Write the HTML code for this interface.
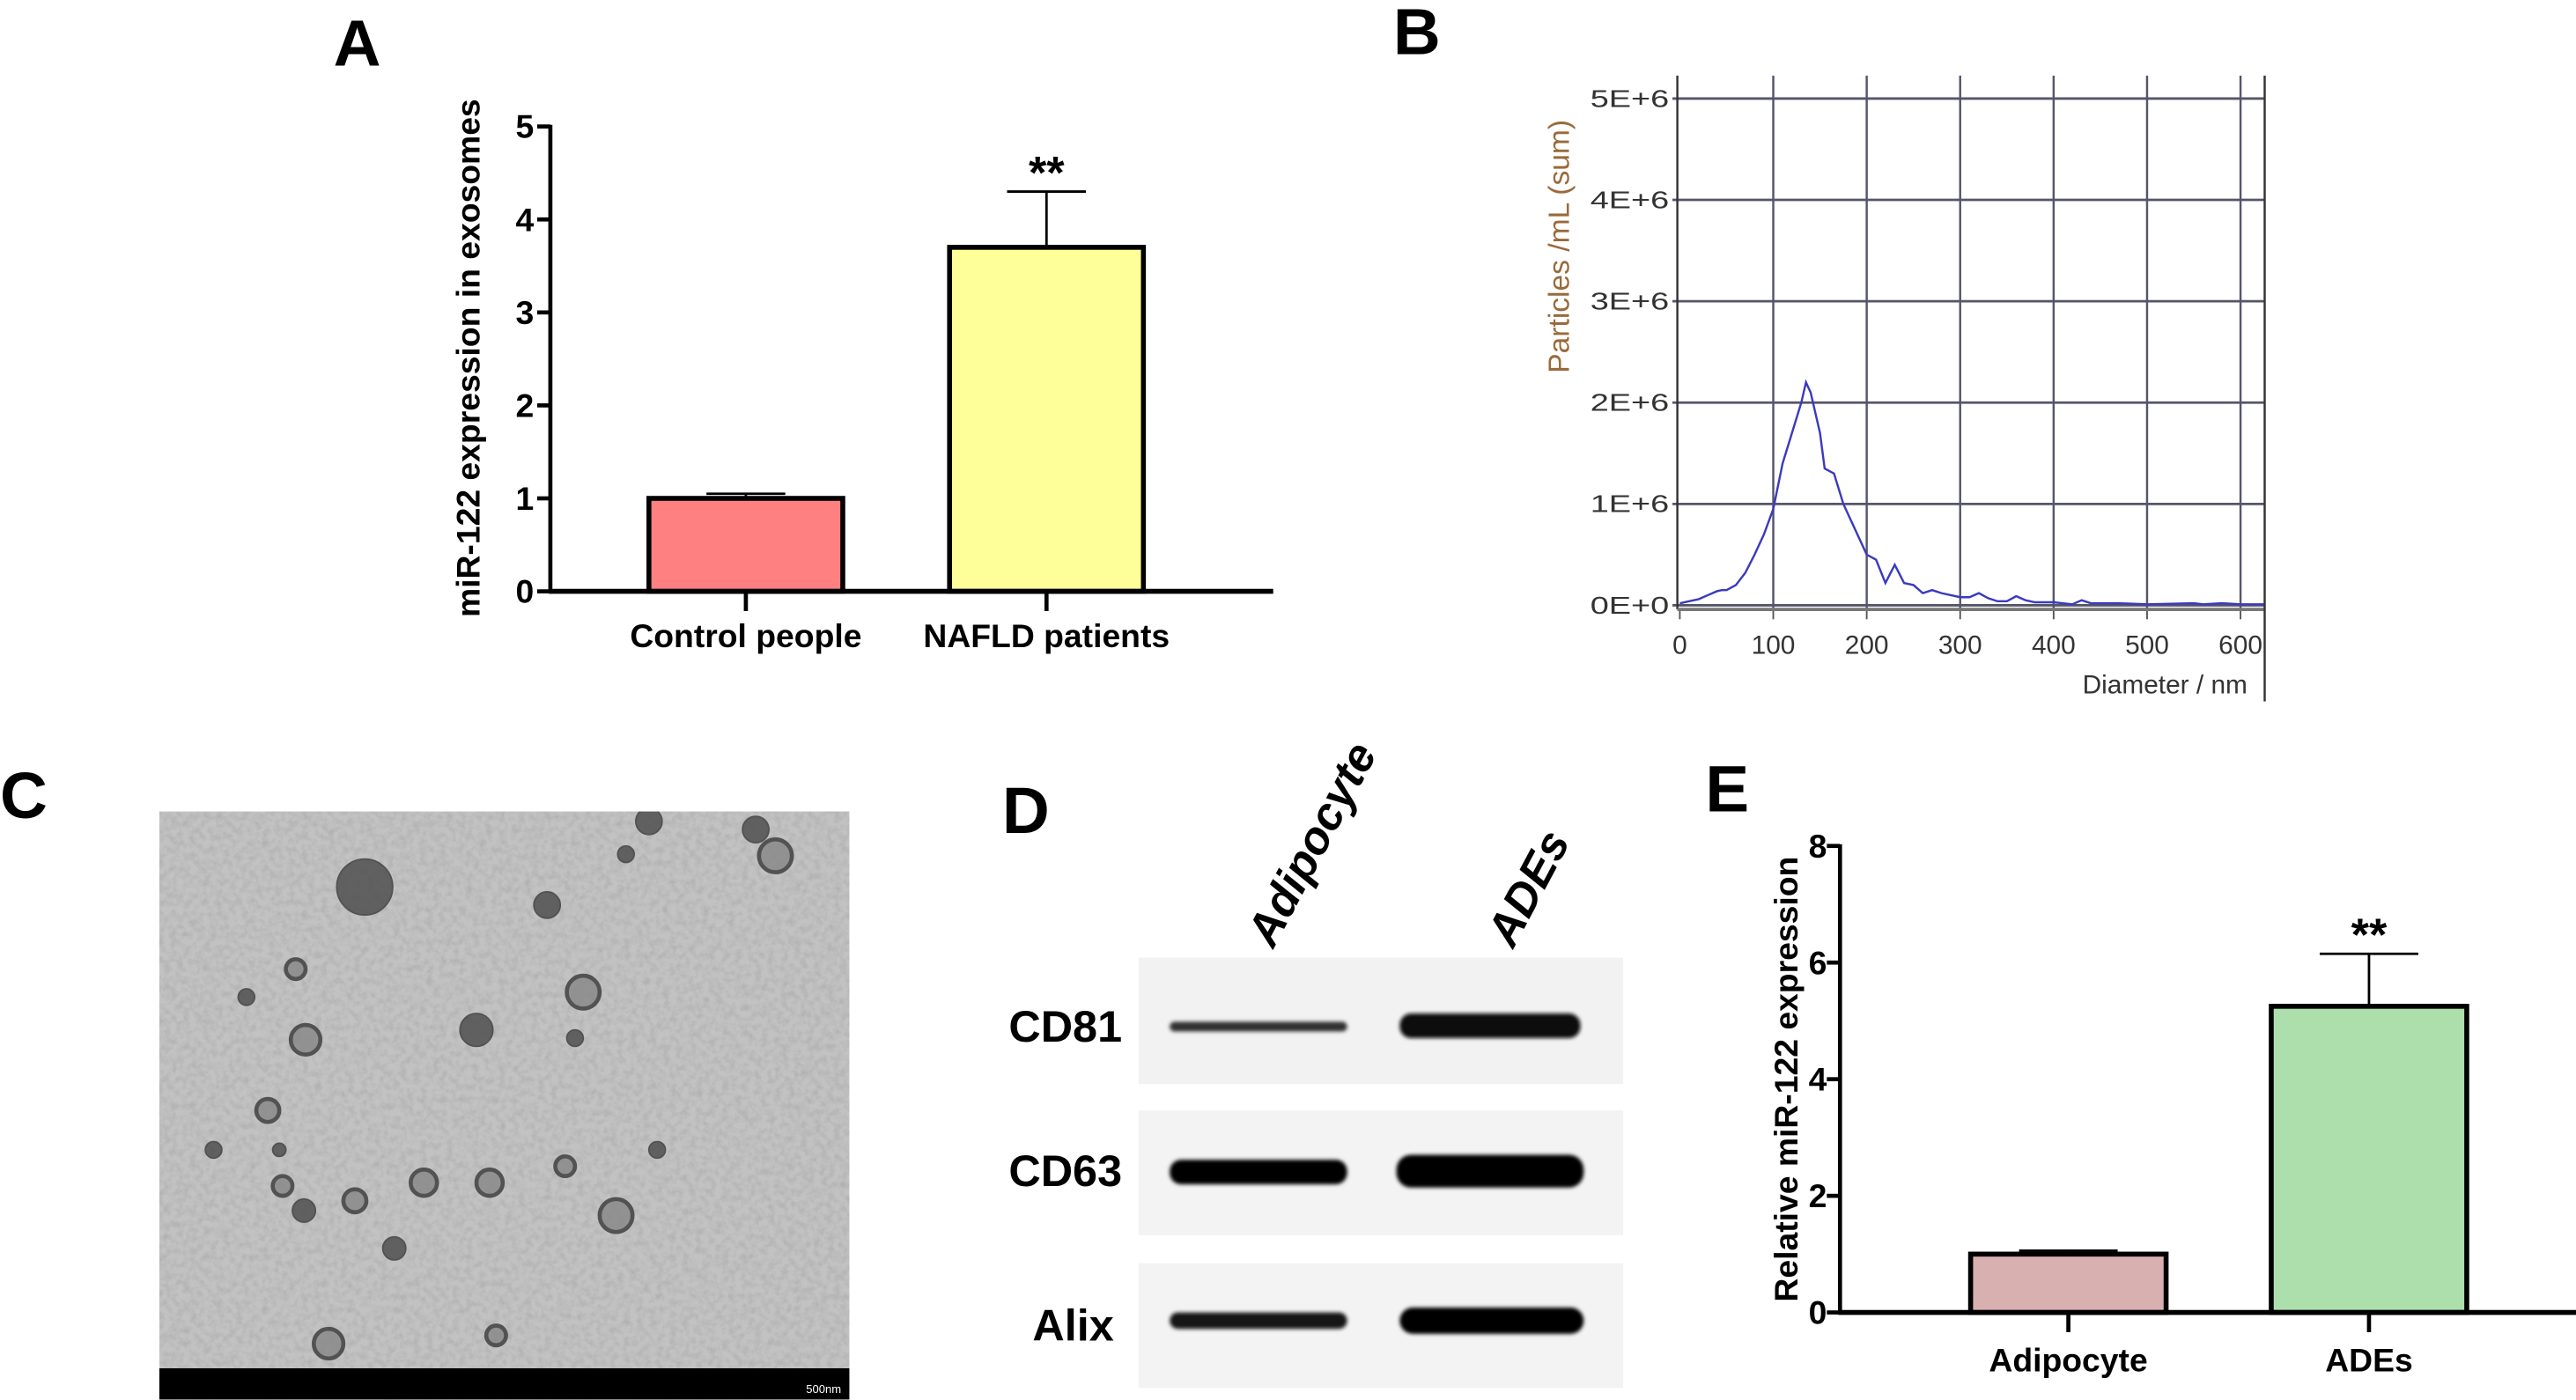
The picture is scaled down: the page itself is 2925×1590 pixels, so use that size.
<!DOCTYPE html>
<html><head><meta charset="utf-8"><style>
html,body{margin:0;padding:0;background:#fff}
svg{display:block}
text{font-family:"Liberation Sans",Arial,sans-serif}
</style></head><body>
<svg id="fig" width="2925" height="1590" viewBox="0 0 1568 852.3" preserveAspectRatio="none" xmlns="http://www.w3.org/2000/svg">
<defs>
<filter id="blur1" x="-0.2" y="-1" width="1.4" height="3"><feGaussianBlur stdDeviation="1.2"/></filter>
<filter id="noise" x="0" y="0" width="1" height="1" filterUnits="objectBoundingBox"><feTurbulence type="fractalNoise" baseFrequency="0.25" numOctaves="3" seed="3"/><feColorMatrix type="matrix" values="0 0 0 0 0.3  0 0 0 0 0.3  0 0 0 0 0.3  0 0 0 1.2 -0.45"/></filter>
<clipPath id="temclip"><rect x="97" y="494" width="420" height="358"/></clipPath>
</defs>
<g id="panelA"></g>
<g id="panelB"></g>
<g id="panelC">
  <text x="0" y="498" font-size="40" font-weight="bold">C</text>
  <rect x="97" y="494" width="420" height="358" fill="#c2c2c2"/>
  <g clip-path="url(#temclip)"><rect x="97" y="494" width="420" height="358" filter="url(#noise)" opacity="0.6"/>
  <g id="vesicles"></g></g>
  <rect x="97" y="833" width="420" height="19" fill="#000"/>
  <text x="512" y="848" font-size="7" fill="#fff" text-anchor="end">500nm</text>
</g>
<g id="panelD">
  <text x="610" y="507" font-size="40" font-weight="bold">D</text>
  <text transform="translate(775,578) rotate(-62)" font-size="28" font-weight="bold" font-style="italic">Adipocyte</text>
  <text transform="translate(921,578) rotate(-62)" font-size="28" font-weight="bold" font-style="italic">ADEs</text>
  <g>
    <rect x="693" y="583" width="295" height="77" fill="#f2f2f2"/>
    <rect x="712" y="622" width="108" height="6" rx="3" fill="#333" filter="url(#blur1)"/>
    <rect x="852" y="617" width="110" height="15" rx="7" fill="#0a0a0a" filter="url(#blur1)"/>
  </g>
  <g>
    <rect x="693" y="676" width="295" height="76" fill="#f3f3f3"/>
    <rect x="712" y="706" width="108" height="15" rx="7" fill="#050505" filter="url(#blur1)"/>
    <rect x="850" y="703" width="114" height="20" rx="9" fill="#000" filter="url(#blur1)"/>
  </g>
  <g>
    <rect x="693" y="769" width="295" height="76" fill="#f3f3f3"/>
    <rect x="712" y="799" width="108" height="10" rx="5" fill="#151515" filter="url(#blur1)"/>
    <rect x="852" y="796" width="112" height="16" rx="8" fill="#000" filter="url(#blur1)"/>
  </g>
  <text x="683" y="634" font-size="27" font-weight="bold" text-anchor="end">CD81</text>
  <text x="683" y="722" font-size="27" font-weight="bold" text-anchor="end">CD63</text>
  <text x="678" y="816" font-size="27" font-weight="bold" text-anchor="end">Alix</text>
</g>
<g id="panelE"></g>
</svg>
<script>
const NS='http://www.w3.org/2000/svg';
function mk(parent,tag,attrs,txt){const e=document.createElementNS(NS,tag);for(const k in attrs)e.setAttribute(k,attrs[k]);if(txt!==undefined)e.textContent=txt;parent.appendChild(e);return e;}

// ---------- Panel A data ----------
const aCategories=['Control people','NAFLD patients'];
const aValues=[1.0,3.7];
const aErrors=[0.05,0.6];
const aColors=['#FF8080','#FFFF99'];
const aTicks=[0,1,2,3,4,5];
const aSig=['','**'];

// ---------- Panel E data ----------
const eCategories=['Adipocyte','ADEs'];
const eValues=[1.0,5.25];
const eErrors=[0.06,0.9];
const eColors=['#D9B0B0','#ADDFAD'];
const eTicks=[0,2,4,6,8];
const eSig=['','**'];

// ---------- Panel B data ----------
const bDiam=[0,10,20,30,40,45,50,60,70,80,90,100,110,120,130,135,140,145,150,155,165,175,190,200,210,220,230,240,250,260,270,280,290,300,310,320,330,340,350,360,370,380,400,420,430,440,470,500,550,560,580,600,630];
const bConc=[0.02,0.04,0.06,0.1,0.14,0.15,0.15,0.2,0.32,0.5,0.7,0.95,1.4,1.7,2.0,2.2,2.1,1.9,1.7,1.35,1.3,1.0,0.7,0.5,0.45,0.22,0.4,0.22,0.2,0.12,0.15,0.12,0.1,0.08,0.08,0.12,0.07,0.04,0.04,0.09,0.05,0.03,0.03,0.01,0.05,0.02,0.02,0.01,0.02,0.01,0.02,0.01,0.01];
const bYTicks=[0,1,2,3,4,5];
const bYTickLabels=['0E+0','1E+6','2E+6','3E+6','4E+6','5E+6'];
const bXTicks=[0,100,200,300,400,500,600];

function barChart(g,o){
  const y=v=>o.y0-(v/o.max)*(o.y0-o.yTop);
  mk(g,'text',{x:o.labX,y:o.labY,'font-size':40,'font-weight':'bold',},o.letter);
  o.ticks.forEach(t=>{
    const tl=mk(g,'line',{x1:o.ax-8,x2:o.ax,y1:y(t),y2:y(t),stroke:'#000','stroke-width':2.5});
    
    
    const tx=mk(g,'text',{x:o.ax-o.tgap,y:y(t)+7,'font-size':20,'font-weight':'bold','text-anchor':'end'},String(t));
    
    
  });
  const ya=mk(g,'line',{x1:o.ax,x2:o.ax,y1:o.yTop-1,y2:o.y0,stroke:'#000','stroke-width':2.5});
  
  
  o.cats.forEach((c,i)=>{
    const cx=o.centers[i];
    const top=y(o.vals[i]), et=y(o.vals[i]+o.errs[i]);
    const el=mk(g,'line',{x1:cx,x2:cx,y1:et,y2:top,stroke:'#000','stroke-width':1.5});
    
    
    const cap=mk(g,'line',{x1:cx-o.cap,x2:cx+o.cap,y1:et,y2:et,stroke:'#000','stroke-width':1.5});
    
    
    const r=mk(g,'rect',{x:cx-o.bw/2,y:top,width:o.bw,height:o.y0-top,fill:o.colors[i],stroke:'#000','stroke-width':3});
    
    
    const tk=mk(g,'line',{x1:cx,x2:cx,y1:o.y0,y2:o.y0+12,stroke:'#000','stroke-width':2.5});
    
    
    const lb=mk(g,'text',{x:cx,y:o.catY,'font-size':20,'font-weight':'bold','text-anchor':'middle'},c);
    
    
    if(o.sig[i]){
      const s=mk(g,'text',{x:cx,y:et-2,'font-size':28,'font-weight':'bold','text-anchor':'middle'},o.sig[i]);
      
      
    }
  });
  const xa=mk(g,'line',{x1:o.ax-1,x2:o.xEnd,y1:o.y0,y2:o.y0,stroke:'#000','stroke-width':3});
  
  
  const t=mk(g,'text',{transform:`translate(${o.titleX},${o.titleY}) rotate(-90)`,'font-size':20,'font-weight':'bold','text-anchor':'middle'},o.title);
  
  
}

barChart(document.getElementById('panelA'),{letter:'A',labX:203,labY:40,ax:335,y0:360,yTop:77,max:5,ticks:aTicks,tgap:10,
  cats:aCategories,vals:aValues,errs:aErrors,colors:aColors,sig:aSig,centers:[454,637],bw:118,cap:24,xEnd:775,catY:394,
  title:'miR-122 expression in exosomes',titleX:292,titleY:218});
barChart(document.getElementById('panelE'),{letter:'E',labX:1038,labY:494,ax:1120,y0:799,yTop:515,max:8,ticks:eTicks,tgap:8,
  cats:eCategories,vals:eValues,errs:eErrors,colors:eColors,sig:eSig,centers:[1259,1442],bw:119,cap:30,xEnd:1568,catY:835,
  title:'Relative miR-122 expression',titleX:1094,titleY:657});

// Panel B
(function(){
  const g=document.getElementById('panelB');
  const x0=1022.5,xs=(1363.8-1022.5)/600, y0=368.5, ys=(368.5-60)/5;
  const X=d=>x0+d*xs, Y=v=>y0-v*ys;
  mk(g,'text',{x:848,y:33,'font-size':40,'font-weight':'bold',},'B');
  bXTicks.forEach(d=>{ if(d>0){
    const l=mk(g,'line',{x1:X(d),x2:X(d),y1:46,y2:371,stroke:'#55556a','stroke-width':1.3});
    
    }
  });
  bYTicks.forEach((v,i)=>{
    const l=mk(g,'line',{x1:1018,x2:1378,y1:Y(v),y2:Y(v),stroke:'#55556a','stroke-width':1.5});
    
    
    const t=mk(g,'text',{x:1016,y:Y(v)+5,'font-size':15,fill:'#333','text-anchor':'end','textLength':48,'lengthAdjust':'spacingAndGlyphs'},bYTickLabels[i]);
    
    
  });
  bXTicks.forEach(d=>{
    const tk=mk(g,'line',{x1:X(d),x2:X(d),y1:371,y2:377,stroke:'#555','stroke-width':1});
    
    
    const t=mk(g,'text',{x:X(d),y:398,'font-size':16,fill:'#333','text-anchor':'middle'},String(d));
    
    
  });
  const la=mk(g,'line',{x1:1021,x2:1021,y1:46,y2:371,stroke:'#333','stroke-width':1.3});
  
  
  const xa=mk(g,'line',{x1:1021,x2:1378,y1:371,y2:371,stroke:'#777','stroke-width':2});
  
  
  const rf=mk(g,'line',{x1:1378.5,x2:1378.5,y1:46,y2:427,stroke:'#333','stroke-width':1.3});
  
  
  const pts=bDiam.map((d,i)=>[Math.min(X(d),1378),Y(bConc[i])]);
  const p=mk(g,'polyline',{points:pts.map(p=>p.join(',')).join(' '),fill:'none',stroke:'#3a3ac0','stroke-width':1.3});
  
  
  const xt=mk(g,'text',{x:1368,y:422,'font-size':16,fill:'#333','text-anchor':'end'},'Diameter / nm');
  
  
  const yt=mk(g,'text',{transform:'translate(955,150) rotate(-90)','font-size':18,fill:'#9a6a3a','text-anchor':'middle'},'Particles /mL (sum)');
  
  
})();

// Panel C vesicles (decorative image content)
(function(){
  const g=document.getElementById('vesicles');
  const ves=[[222,540,17,1],[180,590,6,0],[298,720,8,0],[344,710,6,0],[216,731,7,0],[375,740,10,0],[355,604,10,0],[472,521,10,0],[333,551,8,1],[258,720,8,0],[186,633,9,0],[163,676,7,0],[290,627,10,1],[200,818,9,0],[381,520,5,1],[395,500,8,1],[238,848,5,0],[302,813,6,0],[460,505,8,1],[172,722,6,0],[400,700,5,1],[350,632,5,1],[150,607,5,1],[185,737,7,1],[130,700,5,1],[240,760,7,1],[170,700,4,1]];
  ves.forEach(v=>{
    const c=mk(g,'circle',{cx:v[0],cy:v[1],r:v[2],fill:v[3]?'#505050':'#8a8a8a',stroke:'#404040','stroke-width':v[3]?1:2.5,opacity:0.85});
    
    
  });
})();
</script>
</body></html>
